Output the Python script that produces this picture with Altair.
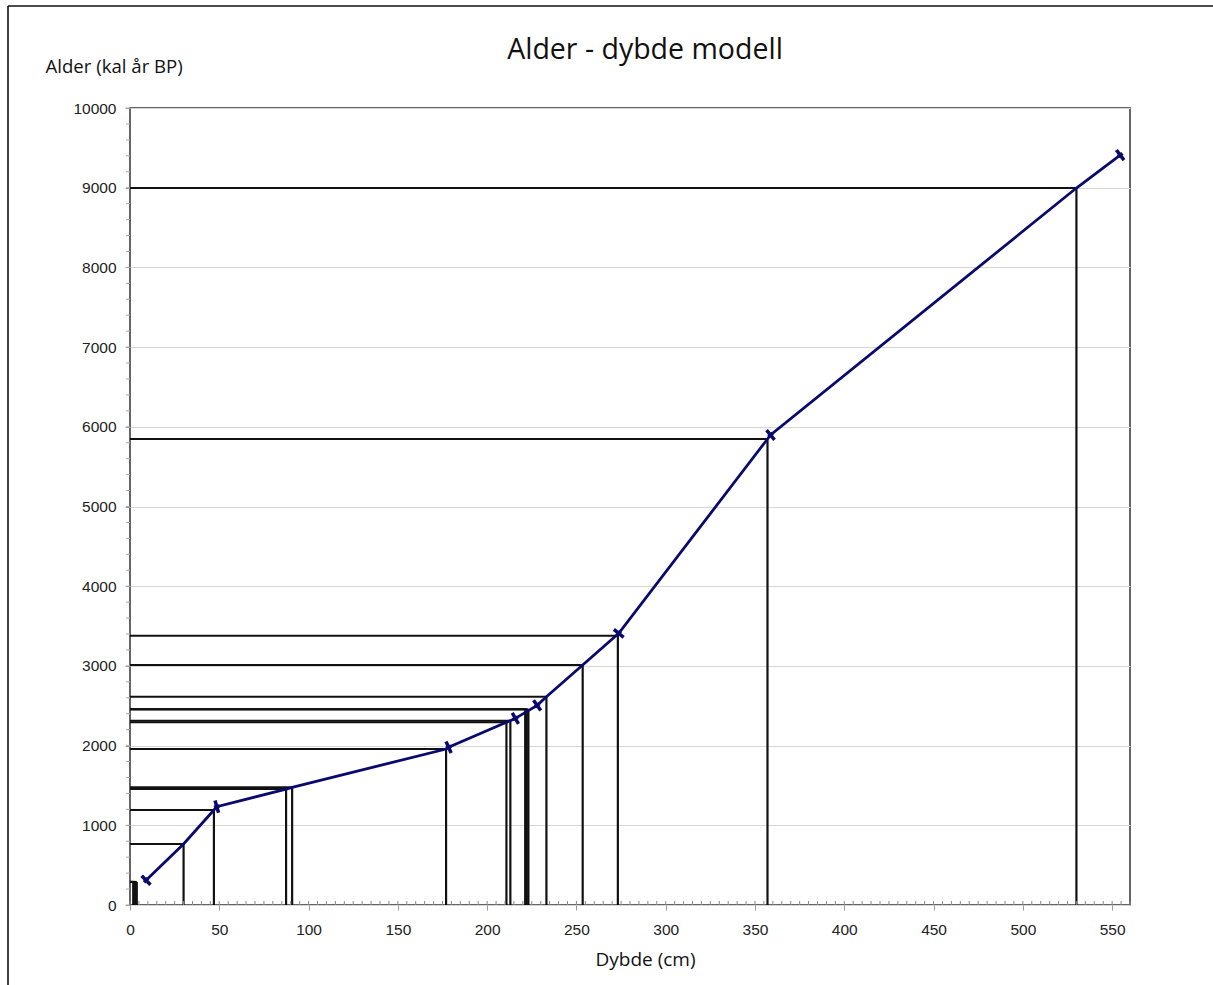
import math
import altair as alt
import pandas as pd

# ---------------- data ----------------
# sample depths (cm) and modelled ages (cal BP) -> drop lines
sample_depth = [1.8, 2.8, 3.8, 30, 47, 87.4, 90.8, 177, 210.8, 213, 221.3, 222.2, 223.1,
                233.2, 253.5, 273.2, 357, 530]
sample_age = [290, 290, 290, 765, 1192, 1455, 1477, 1957, 2292, 2313, 2455, 2455, 2455,
              2614, 3011, 3379, 5847, 8996]

# age-depth model line vertices
model_depth = [9, 30, 47, 48.6, 87.4, 90.8, 177, 178.4, 210.8, 213, 215.8, 228, 233.2,
               253.5, 273.7, 357, 358.7, 530, 554.5]
model_age = [310, 765, 1192, 1234, 1455, 1477, 1957, 1979, 2292, 2313, 2342, 2505, 2614,
             3011, 3409, 5847, 5897, 8996, 9410]

# dated levels (markers)
date_depth = [9, 48.6, 178.4, 215.8, 228, 273.7, 358.7, 554.5]
date_age = [310, 1234, 1979, 2342, 2505, 3409, 5897, 9410]

x_ticks = list(range(0, 551, 50))
y_ticks = list(range(0, 10001, 1000))
x_minor = list(range(0, 561, 5))
y_minor = list(range(0, 10001, 200))

title_text = "Alder - dybde modell"
x_title = "Dybde (cm)"
y_title = "Alder (kal år BP)"

# ---------------- layout ----------------
W, H = 1000, 797
XMAX, YMAX = 560, 10000
px_x = W / XMAX
px_y = H / YMAX

samples = pd.DataFrame({"depth": sample_depth, "age": sample_age, "zero": 0})
model = pd.DataFrame({"depth": model_depth, "age": model_age})

# marker orientation: perpendicular to the model line on screen
angles = []
for d, a in zip(date_depth, date_age):
    i = model_depth.index(d)
    j0 = max(i - 1, 0)
    j1 = min(i + 1, len(model_depth) - 1)
    dx = (model_depth[j1] - model_depth[j0]) * px_x
    dy = (model_age[j1] - model_age[j0]) * px_y
    theta = math.degrees(math.atan2(dy, dx))
    angles.append((360 - theta) % 360)
dates = pd.DataFrame({"depth": date_depth, "age": date_age, "ang": angles})

xs = alt.Scale(domain=[0, XMAX], nice=False, zero=False)
ys = alt.Scale(domain=[0, YMAX], nice=False, zero=False)

x_axis = alt.Axis(
    values=x_ticks, title=x_title, grid=False, domain=False, format="d", labelFlush=False,
    tickSize=5, tickColor="#9a9a9a", tickWidth=1,
    labelFont="Liberation Sans", labelFontSize=15.5, labelColor="#222222", labelPadding=12,
    titleFont="Open Sans", titleFontSize=19, titleFontWeight="normal", titleColor="#111111",
    titleX=515, titleY=60, titleBaseline="alphabetic", titleAnchor="middle", titleAlign="center",
)
y_axis = alt.Axis(
    values=y_ticks, title=y_title, grid=True, gridColor="#d6d6d6", gridWidth=1, domain=False,
    format="d", labelFlush=False,
    tickSize=5, tickColor="#9a9a9a", tickWidth=1,
    labelFont="Liberation Sans", labelFontSize=15.5, labelColor="#222222", labelPadding=9,
    titleFont="Open Sans", titleFontSize=18.6, titleFontWeight="normal", titleColor="#111111",
    titleAngle=0, titleAlign="left", titleBaseline="alphabetic", titleX=-85, titleY=-36,
)

X = lambda f: alt.X(f, scale=xs, axis=x_axis)
Y = lambda f: alt.Y(f, scale=ys, axis=y_axis)

hrules = alt.Chart(samples).mark_rule(color="#111111", strokeWidth=2).encode(
    x=X("zero:Q"), x2="depth:Q", y=Y("age:Q"),
)
vrules = alt.Chart(samples).mark_rule(color="#111111", strokeWidth=2.2).encode(
    x=X("depth:Q"), y=Y("zero:Q"), y2="age:Q",
)

xminor = alt.Chart(pd.DataFrame({"v": x_minor})).mark_rule(color="#8a8a8a", strokeWidth=1).encode(
    x=X("v:Q"), y=alt.value(H), y2=alt.value(H - 4),
)
yminor = alt.Chart(pd.DataFrame({"v": y_minor})).mark_rule(color="#a8a8a8", strokeWidth=1).encode(
    y=Y("v:Q"), x=alt.value(-4), x2=alt.value(0),
)

line = alt.Chart(model).mark_line(color="#0a0a6e", strokeWidth=2.8).encode(
    x=X("depth:Q"), y=Y("age:Q"), order=alt.Order("depth:Q"),
)
markers = alt.Chart(dates).mark_point(
    shape="M0,-1V1M-0.45,0H0.45", filled=False, color="#0a0a6e", strokeWidth=3.5, size=160, opacity=1
).encode(
    x=X("depth:Q"), y=Y("age:Q"), angle=alt.Angle("ang:Q", scale=None),
)

title = alt.Chart(pd.DataFrame({"t": [title_text]})).mark_text(
    font="Open Sans", fontSize=28.5, color="#111111", align="center", baseline="alphabetic"
).encode(text="t:N", x=alt.value(515), y=alt.value(-49))

one = pd.DataFrame({"k": [0]})
frame_top = alt.Chart(one).mark_rule(color="#111111", strokeWidth=1.6).encode(
    x=alt.value(-122), x2=alt.value(1083), y=alt.value(-102)
)
frame_left = alt.Chart(one).mark_rule(color="#111111", strokeWidth=1.6).encode(
    x=alt.value(-122), y=alt.value(-102), y2=alt.value(877)
)

chart = alt.layer(
    hrules, vrules, xminor, yminor, line, markers, title, frame_top, frame_left
).properties(
    width=W, height=H,
    autosize=alt.AutoSizeParams(type="none"),
    padding={"left": 130, "top": 108, "right": 83, "bottom": 80},
    background="white",
).configure_view(stroke="#333333", strokeWidth=1.5)

chart.save("out.html", embed_options={"renderer": "svg", "actions": False})
